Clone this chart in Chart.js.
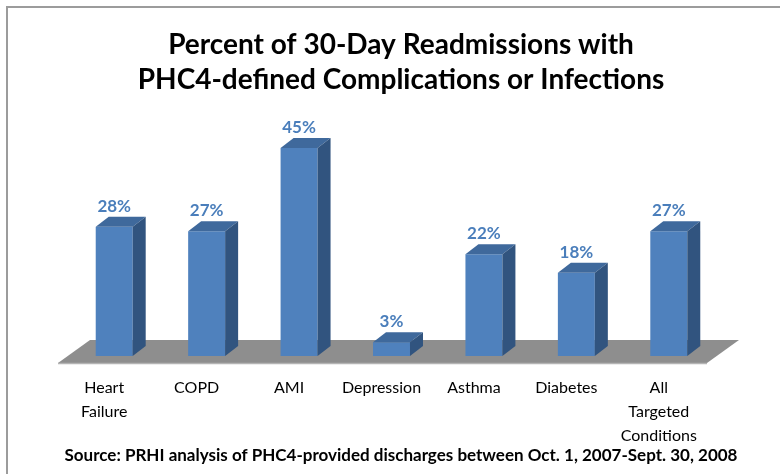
<!DOCTYPE html>
<html lang="en">
<head>
    <meta charset="UTF-8">
    <title>Percent of 30-Day Readmissions</title>
    <style>
        html, body {
            margin: 0;
            padding: 0;
            background: #ffffff;
        }
        #chartBox {
            width: 780px;
            height: 474px;
        }
    </style>
    <script src="https://cdn.jsdelivr.net/npm/chart.js"></script>
</head>
<body>
    <div id="chartBox">
        <canvas id="readmitChart" width="780" height="474"></canvas>
    </div>

    <script>
        // data
        const categories = [['Heart', 'Failure'], 'COPD', 'AMI', 'Depression', 'Asthma', 'Diabetes', ['All', 'Targeted', 'Conditions']];
        const percentValues = [28, 27, 45, 3, 22, 18, 27];
        const titleLines = ['Percent of 30-Day Readmissions with', 'PHC4-defined Complications or Infections'];
        const sourceText = 'Source: PRHI analysis of PHC4-provided discharges between Oct. 1, 2007-Sept. 30, 2008';

        const frontColor = '#4F81BD';
        const topColor = '#3F699C';
        const sideColor = '#31547F';
        const labelColor = '#4A7EBB';
        const depthX = 13, depthY = 10;

        // frame, floor, 3d faces, labels and texts
        const fake3d = {
            id: 'fake3d',
            beforeDraw(chart) {
                const ctx = chart.ctx;
                ctx.save();
                ctx.strokeStyle = '#9C9C9C';
                ctx.lineWidth = 2;
                ctx.beginPath();
                ctx.moveTo(7, 474);
                ctx.lineTo(7, 7);
                ctx.lineTo(780, 7);
                ctx.stroke();
                ctx.restore();
            },
            beforeDatasetsDraw(chart) {
                const ctx = chart.ctx;
                const a = chart.chartArea;
                const yFront = a.bottom + 7, yBack = a.bottom - 16;
                const xl = a.left - 10, xr = a.right - 8, off = 32;
                ctx.save();
                ctx.fillStyle = '#8E8E8E';
                ctx.beginPath();
                ctx.moveTo(xl, yFront);
                ctx.lineTo(xl + off, yBack);
                ctx.lineTo(xr + off, yBack);
                ctx.lineTo(xr, yFront);
                ctx.closePath();
                ctx.fill();
                ctx.strokeStyle = '#B4B4B4';
                ctx.lineWidth = 1.5;
                ctx.beginPath();
                ctx.moveTo(xl, yFront + 0.5);
                ctx.lineTo(xr, yFront + 0.5);
                ctx.stroke();
                ctx.restore();
            },
            afterDatasetsDraw(chart) {
                const ctx = chart.ctx;
                const meta = chart.getDatasetMeta(0);
                ctx.save();
                meta.data.forEach((bar, i) => {
                    const p = bar.getProps(['x', 'y', 'base', 'width'], true);
                    const l = p.x - p.width / 2, r = p.x + p.width / 2;
                    ctx.fillStyle = topColor;
                    ctx.beginPath();
                    ctx.moveTo(l, p.y);
                    ctx.lineTo(r, p.y);
                    ctx.lineTo(r + depthX, p.y - depthY);
                    ctx.lineTo(l + depthX, p.y - depthY);
                    ctx.closePath();
                    ctx.fill();
                    ctx.fillStyle = sideColor;
                    ctx.beginPath();
                    ctx.moveTo(r, p.y);
                    ctx.lineTo(r + depthX, p.y - depthY);
                    ctx.lineTo(r + depthX, p.base - depthY);
                    ctx.lineTo(r, p.base);
                    ctx.closePath();
                    ctx.fill();

                    ctx.fillStyle = labelColor;
                    ctx.font = 'bold 17px Lato';
                    ctx.textAlign = 'center';
                    ctx.textBaseline = 'alphabetic';
                    ctx.fillText(percentValues[i] + '%', p.x, p.y - depthY - 5);
                });
                ctx.restore();
            },
            afterDraw(chart) {
                const ctx = chart.ctx;
                ctx.save();
                ctx.fillStyle = '#000000';
                ctx.textAlign = 'center';
                ctx.textBaseline = 'middle';
                ctx.font = 'bold 28px Lato';
                ctx.fillText(titleLines[0], 401, 45);
                ctx.fillText(titleLines[1], 401, 80);
                ctx.font = 'bold 17px Lato';
                ctx.fillText(sourceText, 401, 456);
                ctx.restore();
            }
        };

        new Chart(document.getElementById('readmitChart'), {
            type: 'bar',
            data: {
                labels: categories,
                datasets: [{
                    data: percentValues,
                    backgroundColor: frontColor,
                    borderWidth: 0,
                    categoryPercentage: 1,
                    barPercentage: 0.4
                }]
            },
            options: {
                responsive: false,
                animation: false,
                devicePixelRatio: 1,
                layout: {
                    padding: { top: 125, left: 68, right: 65, bottom: 30 }
                },
                plugins: {
                    legend: { display: false },
                    tooltip: { enabled: false }
                },
                scales: {
                    y: {
                        display: false,
                        min: 0,
                        max: 50
                    },
                    x: {
                        grid: { display: false, drawTicks: false },
                        border: { display: false },
                        afterFit(scale) { scale.height = 88; },
                        ticks: {
                            color: '#000000',
                            font: { family: 'Lato', size: 16, lineHeight: 1.5 },
                            padding: 20,
                            labelOffset: -10,
                            maxRotation: 0,
                            autoSkip: false
                        }
                    }
                }
            },
            plugins: [fake3d]
        });
    </script>
</body>
</html>
